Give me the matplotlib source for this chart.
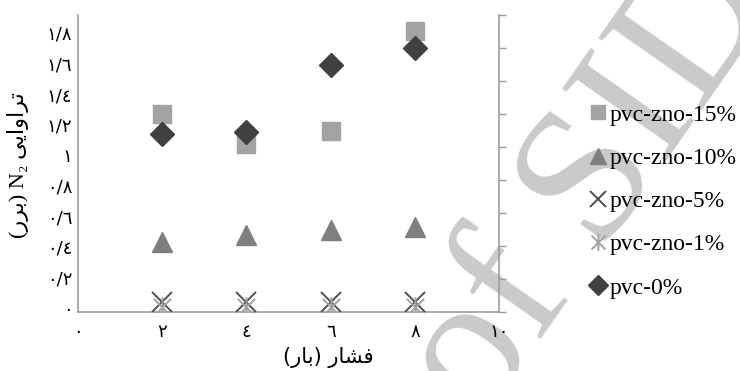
import matplotlib
matplotlib.use('Agg')
import matplotlib.pyplot as plt
from matplotlib.path import Path

# pressure (bar)
pressure = [2, 4, 6, 8]

# N2 permeability (Barrer)
pvc_zno_15 = [1.27, 1.07, 1.16, 1.81]
pvc_zno_10 = [0.43, 0.48, 0.51, 0.53]
pvc_zno_5  = [0.04, 0.04, 0.04, 0.04]
pvc_zno_1  = [0.01, 0.01, 0.01, 0.01]
pvc_0      = [1.14, 1.15, 1.59, 1.70]

x_ticks = [0, 2, 4, 6, 8, 10]
x_tick_labels = ['۰', '۲', '٤', '٦', '۸', '۱۰']
y_ticks = [0, 0.2, 0.4, 0.6, 0.8, 1.0, 1.2, 1.4, 1.6, 1.8]
y_tick_labels = ['۰', '۰/۲', '۰/٤', '۰/٦', '۰/۸', '۱', '۱/۲', '۱/٤', '۱/٦', '۱/۸']

# Persian labels written in visual order with presentation forms
x_label = '(\uFEAD\uFE8E\uFE91) \uFEAD\uFE8E\uFEB8\uFED3'
y_label = '(\uFEAD\uFEAE\uFE91) N\u2082 \uFBFD\uFBFE\uFE8D\uFEED\uFE8D\uFEAE\uFE97'

fam = ['Liberation Serif', 'DejaVu Sans']
grey = '#9c9c9c'

# asterisk marker: x plus a vertical bar
star = Path([(-0.5, -0.5), (0.5, 0.5), (-0.5, 0.5), (0.5, -0.5), (0, -0.6), (0, 0.6)],
            [Path.MOVETO, Path.LINETO, Path.MOVETO, Path.LINETO, Path.MOVETO, Path.LINETO])

fig = plt.figure(figsize=(7.4, 3.71), dpi=100)
fig.patch.set_facecolor('white')
ax = fig.add_axes([0.1054, 0.159, 0.569, 0.8005])
ax.patch.set_visible(False)

# watermark
fig.text(0.8, 0.5, 'of SID', rotation=55, fontsize=138, color='#cacaca',
         family='Liberation Serif', ha='center', va='center', zorder=-1)

ax.plot(pressure, pvc_zno_15, ls='none', marker='s', ms=13, color='#a3a3a3',
        mec='#a3a3a3', label='pvc-zno-15%', zorder=3)
ax.plot(pressure, pvc_zno_10, ls='none', marker='^', ms=14, color='#7f7f7f',
        mec='#7f7f7f', label='pvc-zno-10%', zorder=3)
ax.plot(pressure, pvc_zno_5, ls='none', marker='x', ms=14, mew=1.4, color='#4f4f4f',
        label='pvc-zno-5%', zorder=4)
ax.plot(pressure, pvc_zno_1, ls='none', marker=star, ms=15, mew=1.4, color='#a3a3a3',
        label='pvc-zno-1%', zorder=4)
ax.plot(pressure, pvc_0, ls='none', marker='D', ms=12.5, color='#404040',
        mec='#404040', label='pvc-0%', zorder=5)

ax.set_xlim(0, 10)
ax.set_ylim(-0.026, 1.917)
ax.set_xticks(x_ticks)
ax.set_xticklabels(x_tick_labels, family='DejaVu Sans', fontsize=13)
ax.set_yticks(y_ticks)
ax.set_yticklabels(y_tick_labels, family='DejaVu Sans', fontsize=13)
ax.tick_params(axis='x', length=0, pad=8)
ax.tick_params(axis='y', length=0, pad=4)

for s in ['top', 'right']:
    ax.spines[s].set_visible(False)
for s in ['left', 'bottom']:
    ax.spines[s].set_color(grey)
    ax.spines[s].set_linewidth(1.2)

# secondary axis on the right: ticks only
ax2 = ax.twinx()
ax2.set_ylim(0, 9)
ax2.set_yticks(range(10))
ax2.tick_params(axis='y', right=True, labelright=False, length=5, width=1.0,
                color=grey, direction='out')
for s in ['top', 'left', 'bottom']:
    ax2.spines[s].set_visible(False)
ax2.spines['right'].set_color(grey)
ax2.spines['right'].set_linewidth(1.2)

fig.text(328 / 740, 1 - 357 / 371, x_label, family='DejaVu Sans', fontsize=15,
         ha='center', va='center')
fig.text(18 / 740, 1 - 165 / 371, y_label, family=fam, fontsize=16,
         rotation=90, ha='center', va='center')

ax.legend(loc='upper left', bbox_to_anchor=(591 / 740, 1 - 104 / 371),
          bbox_transform=fig.transFigure, frameon=False, prop={'family': fam, 'size': 17},
          handlelength=0.6, handletextpad=0.2, borderpad=0, borderaxespad=0,
          labelspacing=0.92, markerscale=0.8)

fig.savefig('out.png', dpi=100)
